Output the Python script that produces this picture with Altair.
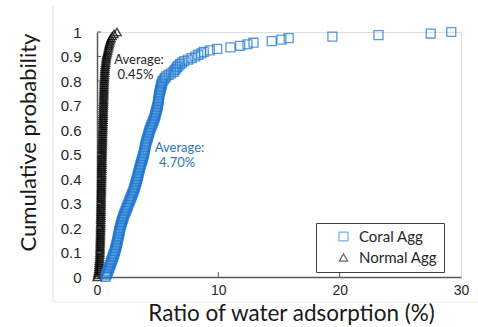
import altair as alt
import pandas as pd

# Cumulative distribution samples (sorted values, %)
coral_values = [
    0.70, 0.74, 0.80, 0.85, 0.90, 0.95, 0.99, 1.04, 1.10,
    1.14, 1.18, 1.22, 1.27, 1.31, 1.35, 1.40, 1.45,
    1.48, 1.51, 1.55, 1.58, 1.61, 1.64, 1.67, 1.70,
    1.72, 1.75, 1.77, 1.80, 1.82, 1.85, 1.87, 1.90,
    1.94, 1.97, 2.01, 2.05, 2.08, 2.12, 2.16, 2.20,
    2.25, 2.30, 2.35, 2.40, 2.45, 2.50, 2.55, 2.60,
    2.65, 2.70, 2.75, 2.80, 2.85, 2.90, 2.95, 3.00,
    3.04, 3.08, 3.12, 3.15, 3.19, 3.23, 3.26, 3.30,
    3.33, 3.36, 3.39, 3.42, 3.45, 3.48, 3.52, 3.55,
    3.59, 3.62, 3.66, 3.70, 3.74, 3.77, 3.81, 3.85,
    3.87, 3.90, 3.92, 3.95, 3.97, 4.00, 4.02, 4.05,
    4.09, 4.13, 4.17, 4.20, 4.24, 4.28, 4.31, 4.35,
    4.40, 4.45, 4.50, 4.55, 4.60, 4.65, 4.70, 4.75,
    4.78, 4.81, 4.84, 4.87, 4.91, 4.94, 4.97, 5.00,
    5.02, 5.04, 5.06, 5.08, 5.10, 5.11, 5.13, 5.15,
    5.18, 5.21, 5.24, 5.27, 5.30, 5.33, 5.37, 5.40,
    5.50, 5.60, 5.70,
    5.90, 6.10, 6.30,
    6.40, 6.50, 6.60, 6.70,
    6.85, 7.00, 7.20,
    7.50, 7.80, 8.10,
    8.35, 8.60, 8.80,
    9.30, 9.90, 11.00,
    11.8, 12.4, 12.9, 14.4, 15.2, 15.8, 19.4, 23.2, 27.5, 29.2,
]

normal_values = [
    0.02, 0.06, 0.09,
    0.12, 0.14, 0.16, 0.17,
    0.18, 0.19, 0.21, 0.22, 0.23, 0.24,
    0.245, 0.25, 0.255, 0.26, 0.265, 0.27, 0.275, 0.28, 0.285, 0.29, 0.295, 0.30,
    0.30, 0.305, 0.31, 0.31, 0.315, 0.32, 0.32, 0.325, 0.33, 0.33, 0.335, 0.34,
    0.34, 0.345, 0.35, 0.35, 0.355, 0.36, 0.36, 0.365, 0.37, 0.37, 0.375, 0.38,
    0.385, 0.39, 0.39, 0.395, 0.40, 0.40, 0.405, 0.41, 0.41, 0.415, 0.42, 0.42,
    0.425, 0.43, 0.435, 0.44, 0.44, 0.445, 0.45, 0.455, 0.46, 0.46, 0.465, 0.47,
    0.475, 0.48, 0.485, 0.49, 0.495, 0.50, 0.505, 0.51, 0.515, 0.52, 0.525, 0.53,
    0.535, 0.54, 0.545, 0.55, 0.555, 0.56, 0.565, 0.57, 0.575, 0.58, 0.585, 0.59,
    0.60, 0.61, 0.62, 0.63, 0.64, 0.65,
    0.67, 0.69, 0.71, 0.73, 0.75, 0.77,
    0.81, 0.85, 0.89, 0.93, 0.97, 1.00,
    1.05, 1.10, 1.15,
    1.25, 1.40, 1.65,
]

series_names = ["Coral Agg", "Normal Agg"]
x_ticks = [0, 10, 20, 30]
y_ticks = [0, 0.1, 0.2, 0.3, 0.4, 0.5, 0.6, 0.7, 0.8, 0.9, 1]

annot_text = ["Average:", "0.45%", "Average:", "4.70%"]
annot_x = [3.46, 3.17, 6.8, 6.6]
annot_y = [0.869, 0.808, 0.51, 0.449]
annot_color = ["#262626", "#262626", "#2E75B6", "#2E75B6"]

# build cumulative probability table
rows = []
for name, vals in zip(series_names, [coral_values, normal_values]):
    s = sorted(vals)
    n = len(s)
    for i, v in enumerate(s):
        rows.append({"series": name, "x": v, "p": i / (n - 1)})
df = pd.DataFrame(rows)
df_annot = pd.DataFrame({"t": annot_text, "x": annot_x, "y": annot_y, "c": annot_color})

W, H = 364, 245
xscale = alt.Scale(domain=[0, 30], nice=False)
yscale = alt.Scale(domain=[0, 1], nice=False)

x_axis = alt.Axis(values=x_ticks, title="Ratio of water adsorption (%)", grid=False,
                  ticks=False, labelPadding=17, labelBaseline="alphabetic",
                  labelFlush=False, labelOverlap=False,
                  labelFont="Liberation Sans", labelFontSize=14, labelColor="#262626",
                  titleFont="Lato", titleFontSize=22.5, titleFontWeight="normal",
                  titleColor="#1a1a1a", titleX=194, titleY=43,
                  titleBaseline="alphabetic", titleAlign="center",
                  domainColor="#595959", domainWidth=1.5)
y_axis = alt.Axis(values=y_ticks, format=".1~f", title="Cumulative probability", grid=False,
                  ticks=False, labelPadding=16, labelOverlap=False, labelFlush=False,
                  labelFont="Liberation Sans", labelFontSize=15, labelColor="#262626",
                  titleFont="Lato", titleFontSize=22, titleFontWeight="normal",
                  titleColor="#1a1a1a", titleX=-69, titleY=110,
                  titleBaseline="middle", titleAlign="center", titleAngle=-90,
                  domainColor="#595959", domainWidth=1.5)

points = alt.Chart(df).mark_point(filled=False, strokeWidth=1.3, opacity=0.75).encode(
    x=alt.X("x:Q", scale=xscale, axis=x_axis),
    y=alt.Y("p:Q", scale=yscale, axis=y_axis),
    color=alt.Color("series:N", scale=alt.Scale(domain=series_names, range=["#1f78d1", "#000000"]),
                    legend=alt.Legend(title=None, orient="none", legendX=219, legendY=191,
                                      fillColor="white", strokeColor="#404040", padding=6,
                                      symbolOffset=14, rowPadding=5, labelOffset=8,
                                      labelFont="Lato", labelFontSize=15, labelColor="#262626",
                                      symbolSize=70, symbolStrokeWidth=1.2, symbolOpacity=0.6)),
    shape=alt.Shape("series:N", scale=alt.Scale(domain=series_names, range=["square", "triangle-up"]),
                    legend=None),
    size=alt.Size("series:N", scale=alt.Scale(domain=series_names, range=[80, 70]), legend=None),
    order=alt.Order("series:N", sort="descending"),
)

ytick_df = pd.DataFrame({"t": y_ticks})
xtick_df = pd.DataFrame({"t": x_ticks[1:3]})
ytick_marks = alt.Chart(ytick_df).mark_rule(color="#595959", strokeWidth=1).encode(
    y=alt.Y("t:Q", scale=yscale, axis=y_axis), x=alt.value(0), x2=alt.value(4))
xtick_marks = alt.Chart(xtick_df).mark_rule(color="#595959", strokeWidth=1).encode(
    x=alt.X("t:Q", scale=xscale, axis=x_axis), y=alt.value(H), y2=alt.value(H - 5))

annots = alt.Chart(df_annot).mark_text(font="Lato", fontSize=13, align="center",
                                       baseline="alphabetic").encode(
    x=alt.X("x:Q", scale=xscale, axis=x_axis), y=alt.Y("y:Q", scale=yscale, axis=y_axis),
    text="t:N", color=alt.Color("c:N", scale=None))

one = pd.DataFrame({"a": [0]})
frame_v = alt.Chart(one).mark_rule(color="#e3e3e3", strokeWidth=1).encode(
    x=alt.value(-44), y=alt.value(-26), y2=alt.value(270))
frame_h = alt.Chart(one).mark_rule(color="#eeeeee", strokeWidth=1).encode(
    x=alt.value(-44), x2=alt.value(381), y=alt.value(270))

chart = alt.layer(frame_v, frame_h, points, ytick_marks, xtick_marks, annots).properties(
    width=W, height=H,
    autosize=alt.AutoSizeParams(type="none"),
    padding={"left": 97, "top": 32, "right": 17, "bottom": 50},
).configure_view(stroke="#595959", strokeWidth=1.5).configure_axis(
    labelOverlap=False, labelFlush=False
).configure(background="white")

chart.save("out.html", embed_options={"renderer": "svg", "actions": False})
